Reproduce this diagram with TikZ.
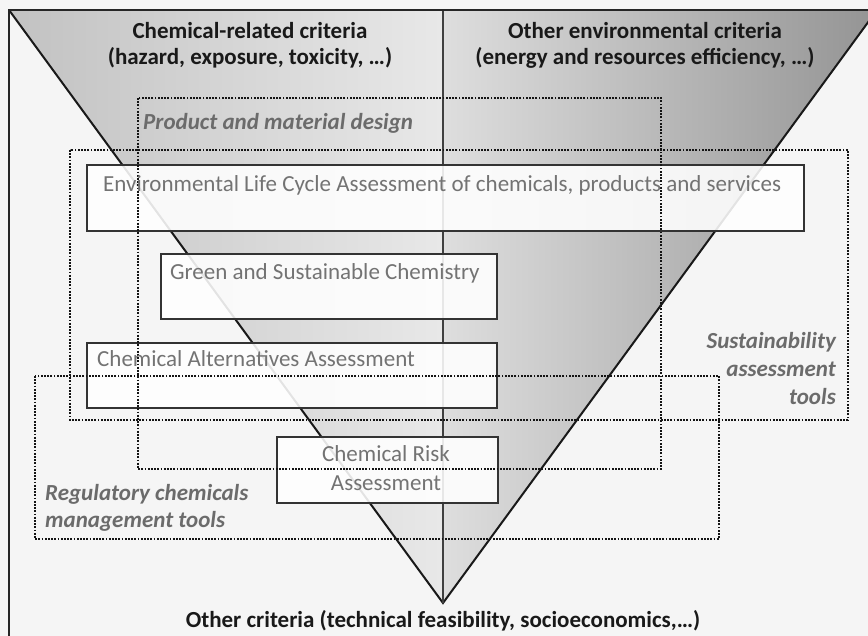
\documentclass[tikz,border=0pt]{standalone}
\usepackage{fontspec}
\setmainfont{Carlito}

\begin{document}
\begin{tikzpicture}[x=1pt, y=-1pt,
  box/.style={draw=black!80, line width=1.8pt, fill=white, fill opacity=0.88, inner sep=0pt, anchor=north west},
  boxtext/.style={text=black!55, font=\fontsize{23}{27}\selectfont, inner sep=0pt},
  zone/.style={draw=black!92, line width=2pt, dash pattern=on 1.8pt off 1.4pt},
  head/.style={text=black!90, font=\bfseries\fontsize{23}{26}\selectfont, inner sep=0pt, anchor=base},
  tag/.style={text=black!58, font=\bfseries\itshape\fontsize{23}{27}\selectfont, inner sep=0pt}]

\useasboundingbox (0,0) rectangle (868,636);
\fill[black!4] (0,0) rectangle (868,636);

% funnel
\coordinate (topleft) at (9,10);
\coordinate (topmid) at (443,10);
\coordinate (topright) at (877,10);
\coordinate (apex) at (443,603);
\shade[left color=black!24, right color=black!9] (topleft) -- (topmid) -- (apex) -- cycle;
\shade[left color=black!13, right color=black!42] (topmid) -- (topright) -- (apex) -- cycle;
\draw[line width=2pt, black!90] (topleft) -- (apex) -- (topright);
\draw[line width=1.8pt, black!75] (topmid) -- (apex);

% frame
\draw[line width=2pt, black!85] (9,640) -- (topleft) -- (872,10);

% tool boxes
\node[box, minimum width=717pt, minimum height=66pt] (elca) at (86,164) {};
\node[box, minimum width=336pt, minimum height=65pt] (gsc) at (160,253) {};
\node[box, minimum width=410pt, minimum height=65pt] (caa) at (86,342) {};
\node[box, minimum width=221pt, minimum height=66pt] (cra) at (276,436) {};

% dotted scopes
\draw[zone] (138,98) rectangle (661,469);
\draw[zone] (70,150) rectangle (848,420);
\draw[zone] (35,376) rectangle (719,539);

% box labels
\node[boxtext, anchor=base west] (elcatext) at (103,192) {Environmental Life Cycle Assessment of chemicals, products and services};
\node[boxtext, anchor=base west] (gsctext) at (170,280) {Green and Sustainable Chemistry};
\node[boxtext, anchor=base west] (caatext) at (97,367) {Chemical Alternatives Assessment};
\node[boxtext, anchor=base] (cratext) at (386,461) {Chemical Risk};
\node[boxtext, anchor=base] (cratext2) at (386,490) {Assessment};

% criteria
\node[head] (chemhead) at (250,39) {Chemical-related criteria};
\node[head] (chemsub) at (250,65) {(hazard, exposure, toxicity, …)};
\node[head] (envhead) at (645,39) {Other environmental criteria};
\node[head] (envsub) at (645,65) {(energy and resources efficiency, …)};
\node[head] (otherhead) at (443,627) {Other criteria (technical feasibility, socioeconomics,…)};

% scope tags
\node[tag, anchor=base west] (designtag) at (143,130) {Product and material design};
\node[tag, anchor=base west] (regtag) at (45,500) {Regulatory chemicals};
\node[tag, anchor=base west] (regtag2) at (45,527) {management tools};
\node[tag, anchor=base east] (sustag) at (836,349) {Sustainability};
\node[tag, anchor=base east] (sustag2) at (836,377) {assessment};
\node[tag, anchor=base east] (sustag3) at (836,404) {tools};
\end{tikzpicture}
\end{document}
